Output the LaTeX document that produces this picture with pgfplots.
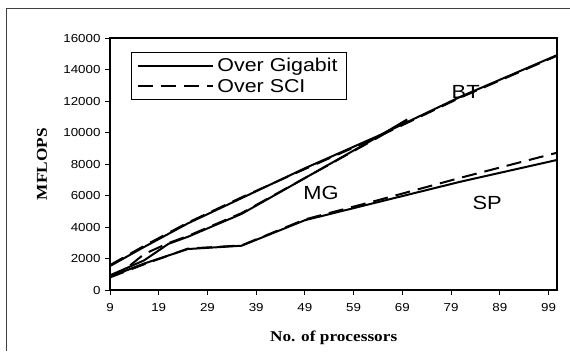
\documentclass[border=0pt]{standalone}
\usepackage{fontspec}
\setmainfont{Liberation Sans}[FakeStretch=1.15]
\newfontfamily\seriffont{Liberation Serif}[FakeStretch=1.15]
\usepackage{pgfplots}
\pgfplotsset{compat=1.18}
\begin{document}
\begin{tikzpicture}
\useasboundingbox (0,0) rectangle (570pt,351pt);
\draw[line width=1pt, black!75] (6pt,0pt) -- (6pt,342.3pt) -- (570pt,342.3pt);
\begin{axis}[
  at={(110pt,60.7pt)}, anchor=south west,
  scale only axis, width=447.3pt, height=252pt,
  xmin=9, xmax=100.8, ymin=0, ymax=16000,
  xtick={9,19,...,99}, ytick={0,2000,...,16000},
  axis line style={line width=2pt},
  tick style={line width=0.9pt, black},
  tick align=outside, major tick length=5pt,
  tick pos=left,
  /pgf/number format/assume math mode=true,
  /pgf/number format/1000 sep={},
  scaled y ticks=false,
  tick label style={font=\fontsize{11.6}{13}\selectfont},
  yticklabel style={xshift=-1pt},
  xticklabel style={yshift=-5pt},
  xlabel={\seriffont\bfseries No. of processors},
  ylabel={\seriffont\bfseries MFLOPS},
  xlabel style={at={(rel axis cs:0.5,0)}, anchor=base, yshift=-51.4pt, font=\fontsize{15}{16}\selectfont},
  ylabel style={at={(rel axis cs:0,0.5)}, anchor=center, rotate=0, yshift=68pt, font=\fontsize{15}{16}\selectfont},
  legend style={at={(rel axis cs:0.047,0.947)}, anchor=north west, draw=black, line width=0.9pt,
    font=\fontsize{18.6}{20}\selectfont, inner xsep=6pt, inner ysep=4pt, row sep=2pt,
    cells={anchor=west}, nodes={inner xsep=3pt}},
  legend image code/.code={\draw[#1] (0pt,0pt) -- (75pt,0pt);},
  solidline/.style={black, line width=2pt},
  dashedline/.style={black, line width=2pt, dash pattern=on 15pt off 8pt},
]
\addplot[solidline] coordinates {(9,1540)(16,2750)(25,4250)(36,5850)(49,7750)(64,9800)(81,12300)(100.8,14940)};
\addlegendentry{Over Gigabit}
\addplot[dashedline] coordinates {(9,1600)(16,2820)(25,4300)(36,5900)(49,7700)(64,9750)(81,12250)(100.8,14900)};
\addlegendentry{Over SCI}
\addplot[solidline, forget plot] coordinates {(9,950)(16,1900)(21,2950)(25,3400)(36,4850)(64,9750)(70,10850)};
\addplot[dashedline, forget plot] coordinates {(9,900)(12,1300)(16,2300)(21,3000)(25,3450)(36,4900)(64,9700)(70,10800)};
\addplot[solidline, forget plot] coordinates {(9,860)(16,1700)(25,2620)(36,2830)(49,4450)(64,5600)(81,6900)(100.8,8280)};
\addplot[dashedline, forget plot] coordinates {(9,820)(16,1650)(25,2650)(36,2850)(49,4500)(64,5720)(81,7150)(100.8,8740)};
\node[font=\fontsize{19}{20}\selectfont] at (axis cs:52.3,6165) {MG};
\node[font=\fontsize{19}{20}\selectfont] at (axis cs:82.0,12610) {BT};
\node[font=\fontsize{19}{20}\selectfont] at (axis cs:86.4,5530) {SP};
\end{axis}
\end{tikzpicture}
\end{document}
